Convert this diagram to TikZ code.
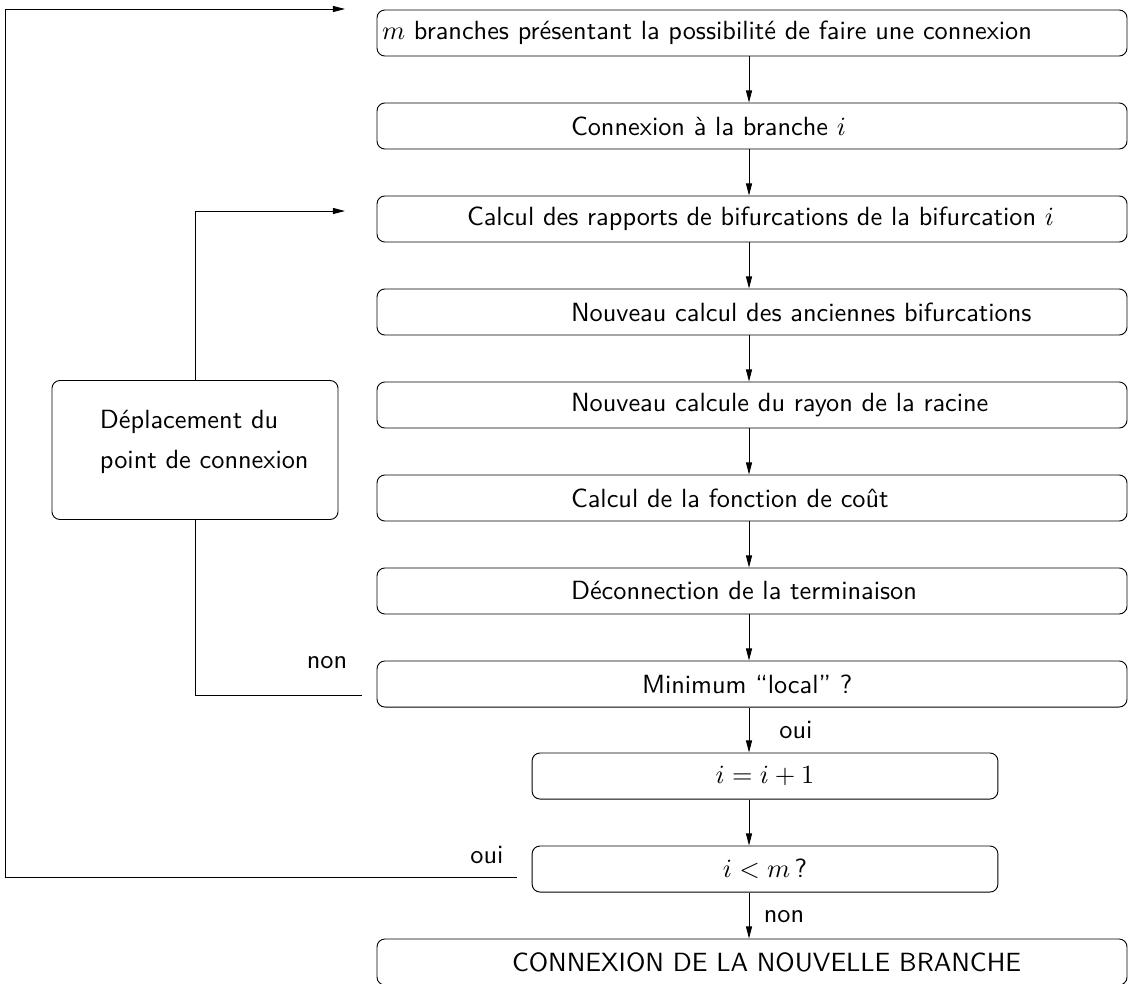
\documentclass[tikz,border=0pt]{standalone}
\usetikzlibrary{arrows.meta}
\newdimen\pxu \pxu=0.38pt
\newcommand\ind[1]{\hspace*{#1\pxu}}

\begin{document}
\begin{tikzpicture}[x=0.38pt, y=-0.38pt, font=\sffamily, line width=0.35pt,
    box/.style={draw, rounded corners=3pt, inner xsep=0pt, align=left,
      text width=285pt, minimum height=17.5pt},
    smallbox/.style={draw, rounded corners=3pt, minimum width=177pt, minimum height=17.5pt},
    arr/.style={-{Triangle[length=4.6pt,width=2.3pt]}}]
  \useasboundingbox (0,0) rectangle (1130,983);
  \node[box] (b1) at (752,33) {\ind{5}$m$ branches présentant la possibilité de faire une connexion};
  \node[box] (b2) at (752,126) {\ind{194}Connexion à la branche $i$};
  \node[box] (b3) at (752,219) {\ind{90}Calcul des rapports de bifurcations de la bifurcation $i$};
  \node[box] (b4) at (752,312) {\ind{194}Nouveau calcul des anciennes bifurcations};
  \node[box] (b5) at (752,405) {\ind{194}Nouveau calcule du rayon de la racine};
  \node[box] (b6) at (752,498) {\ind{194}Calcul de la fonction de coût};
  \node[box] (b7) at (752,591) {\ind{194}Déconnection de la terminaison};
  \node[box] (b8) at (752,684) {\ind{265}Minimum ``local''~?};
  \node[smallbox] (b9) at (765,776) {$i=i+1$};
  \node[smallbox] (b10) at (765,869) {$i<m\,$?};
  \node[box] (b11) at (752,962) {\ind{135}CONNEXION DE LA NOUVELLE BRANCHE};
  \node[box, text width=108.7pt, minimum height=52.8pt] (dep) at (195,450)
    {\ind{48}Déplacement du\\[3pt]\ind{48}point de connexion\\[-4pt]\mbox{}};

  \coordinate (axis) at (749,0);
  \foreach \a/\b in {b1/b2,b2/b3,b3/b4,b4/b5,b5/b6,b6/b7,b7/b8,b8/b9,b9/b10,b10/b11}
    \draw[arr] (axis |- \a.south) -- (axis |- \b.north);

  % loops
  \coordinate (t1) at (345,9);
  \coordinate (t3) at (345,211);
  \coordinate (n8) at (362,695);
  \coordinate (o10) at (517,877);
  \coordinate (edge) at (5,0);
  \draw[arr] (dep.north) |- (t3);
  \draw (n8) -| (dep.south);
  \draw[arr] (o10) -| (edge |- t1) -- (t1);

  \node (non8) at (327,663) {non};
  \node (oui8) at (796,730) {oui};
  \node (oui10) at (487,855) {oui};
  \node (non10) at (784,917) {non};
\end{tikzpicture}
\end{document}
